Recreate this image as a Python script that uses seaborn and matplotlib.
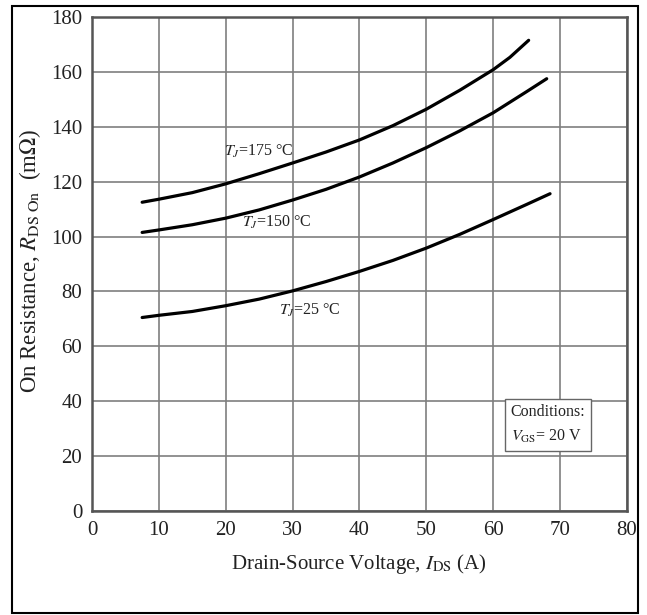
import matplotlib
matplotlib.use("Agg")
import matplotlib.pyplot as plt
from matplotlib.patches import Rectangle
import seaborn as sns
import pandas as pd

# Drain current (A) and on-resistance (mOhm) at three junction temperatures
i_ds_175 = [7.5, 10, 15, 20, 25, 30, 35, 40, 45, 50, 55, 60, 62.5, 65.3]
r_on_175 = [112.5, 113.6, 116.0, 119.2, 122.9, 126.8, 130.8, 135.2, 140.4,
            146.4, 153.3, 160.8, 165.3, 171.5]

i_ds_150 = [7.5, 10, 15, 20, 25, 30, 35, 40, 45, 50, 55, 60, 65, 68.0]
r_on_150 = [101.5, 102.4, 104.3, 106.7, 109.7, 113.3, 117.2, 121.7, 126.8,
            132.4, 138.5, 145.1, 152.8, 157.5]

i_ds_25 = [7.5, 10, 15, 20, 25, 30, 35, 40, 45, 50, 55, 60, 65, 68.5]
r_on_25 = [70.5, 71.3, 72.7, 74.8, 77.2, 80.2, 83.6, 87.3, 91.3, 95.8,
           100.8, 106.2, 111.7, 115.6]

series_labels = ["175", "150", "25"]
x_ticks = [0, 10, 20, 30, 40, 50, 60, 70, 80]
y_ticks = [0, 20, 40, 60, 80, 100, 120, 140, 160, 180]

frames = []
for lab, xs, ys in zip(series_labels,
                       [i_ds_175, i_ds_150, i_ds_25],
                       [r_on_175, r_on_150, r_on_25]):
    frames.append(pd.DataFrame({"I": xs, "R": ys, "Tj": lab}))
df = pd.concat(frames, ignore_index=True)

sns.set_theme(style="white")
plt.rcParams["font.family"] = ["Liberation Serif", "DejaVu Serif"]
plt.rcParams["mathtext.fontset"] = "stix"

fig = plt.figure(figsize=(6.47, 6.15), dpi=100)
ax = fig.add_axes([0.1422, 0.1691, 0.8268, 0.8033])

sns.lineplot(data=df, x="I", y="R", units="Tj", estimator=None,
             color="black", linewidth=2.3, ax=ax, sort=False)
for ln in ax.lines:
    ln.set_solid_capstyle("round")
    ln.set_solid_joinstyle("round")

ax.set_xlim(0, 80)
ax.set_ylim(0, 180)
ax.set_xticks(x_ticks)
ax.set_yticks(y_ticks)
ax.set_xticklabels([str(v) for v in x_ticks], fontsize=15, color="#222222")
ax.set_yticklabels([str(v) for v in y_ticks], fontsize=15, color="#222222")
ax.tick_params(axis="both", length=0, pad=7)
ax.grid(True, color="#7f7f7f", linewidth=1.2)
for s in ax.spines.values():
    s.set_color("#555555")
    s.set_linewidth(1.8)

ax.set_xlabel(r"Drain-Source Voltage, $I_{\mathrm{DS}}$ (A)", fontsize=15,
              color="#222222", labelpad=9)
ax.set_ylabel(r"On Resistance, $R_{\mathrm{DS\ On}}$  (m$\Omega$)", fontsize=16.5,
              color="#222222")
ax.yaxis.set_label_coords(-0.092, 0.506)

# curve annotations
ax.text(19.8, 129.5, r"$T_{J}$=175 °C", fontsize=11.5, color="#222222")
ax.text(22.5, 103.5, r"$T_{J}$=150 °C", fontsize=11.5, color="#222222")
ax.text(28.0, 71.5, r"$T_{J}$=25 °C", fontsize=11.5, color="#222222")

# conditions box
ax.text(62.6, 25.5, "Conditions:\n" + r"$V_{\mathrm{GS}}$= 20 V", fontsize=11.5,
        color="#222222", linespacing=1.6,
        bbox=dict(boxstyle="square,pad=0.35", facecolor="white",
                  edgecolor="#666666", linewidth=1.0))

# outer frame around the whole figure
fig.patches.append(Rectangle((0.0185, 0.0033), 0.9675, 0.987,
                             transform=fig.transFigure, fill=False,
                             edgecolor="black", linewidth=1.5))

fig.savefig("out.png", dpi=100)
